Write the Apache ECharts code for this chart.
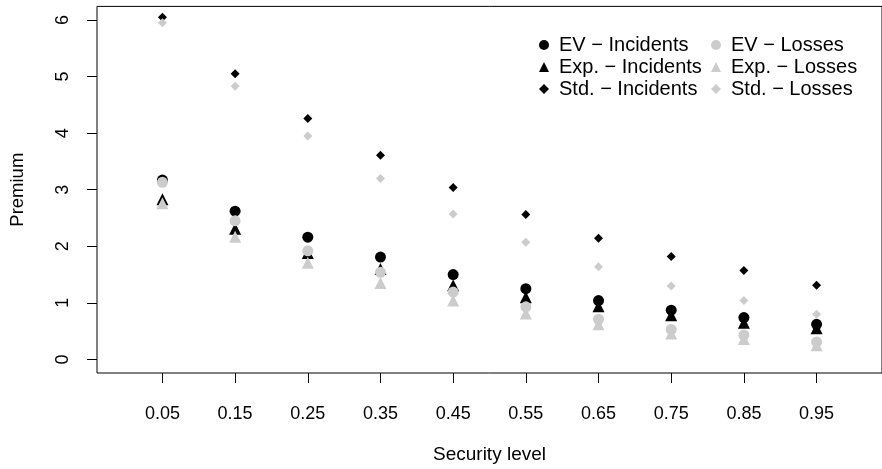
<!DOCTYPE html>
<html>
<head>
<meta charset="utf-8">
<script src="https://cdn.jsdelivr.net/npm/echarts@6/dist/echarts.min.js"></script>
<style>
html,body{margin:0;padding:0;background:#fff;}
#chart{width:882px;height:469px;}
</style>
</head>
<body>
<div id="chart"></div>
<script>
// Data
const securityLevels = [0.05, 0.15, 0.25, 0.35, 0.45, 0.55, 0.65, 0.75, 0.85, 0.95];
const evIncidents  = [3.17, 2.62, 2.16, 1.81, 1.50, 1.25, 1.04, 0.87, 0.74, 0.62];
const expIncidents = [2.83, 2.31, 1.88, 1.60, 1.31, 1.10, 0.94, 0.78, 0.65, 0.55];
const stdIncidents = [6.05, 5.05, 4.26, 3.61, 3.04, 2.56, 2.14, 1.82, 1.57, 1.31];
const evLosses     = [3.13, 2.45, 1.92, 1.54, 1.19, 0.93, 0.71, 0.53, 0.43, 0.31];
const expLosses    = [2.76, 2.17, 1.71, 1.35, 1.04, 0.81, 0.62, 0.46, 0.36, 0.25];
const stdLosses    = [5.95, 4.83, 3.95, 3.20, 2.57, 2.07, 1.64, 1.30, 1.04, 0.80];
const xTickLabels = ['0.05','0.15','0.25','0.35','0.45','0.55','0.65','0.75','0.85','0.95'];
const yTicks = [0, 1, 2, 3, 4, 5, 6];

const BLACK = '#000000';
const GRAY = '#cccccc';
const FONT = 'Liberation Sans, Arial, sans-serif';

function pts(ys) { return securityLevels.map((x, i) => [x, ys[i]]); }

const seriesDefs = [
  {name: 'EV − Incidents',   data: evIncidents,  symbol: 'circle',   size: 11, color: BLACK},
  {name: 'Exp. − Incidents', data: expIncidents, symbol: 'triangle', size: 12, color: BLACK},
  {name: 'Std. − Incidents', data: stdIncidents, symbol: 'diamond',  size: 9,  color: BLACK},
  {name: 'EV − Losses',      data: evLosses,     symbol: 'circle',   size: 11, color: GRAY},
  {name: 'Exp. − Losses',    data: expLosses,    symbol: 'triangle', size: 12, color: GRAY},
  {name: 'Std. − Losses',    data: stdLosses,    symbol: 'diamond',  size: 9,  color: GRAY}
];

const chart = echarts.init(document.getElementById('chart'), null, {renderer: 'canvas'});

const legendCommon = {
  orient: 'vertical',
  itemWidth: 10,
  itemHeight: 10,
  itemGap: 2,
  padding: 0,
  textStyle: {fontFamily: FONT, fontSize: 20, color: '#000', lineHeight: 20, padding: [0, 0, 0, 5]},
  selectedMode: false
};

chart.setOption({
  animation: false,
  backgroundColor: '#fff',
  textStyle: {fontFamily: FONT},
  grid: {
    left: 97, top: 6.4, width: 788, height: 368.2,
    show: true, borderColor: '#000', borderWidth: 1, backgroundColor: 'transparent',
    containLabel: false
  },
  legend: [
    Object.assign({}, legendCommon, {
      left: 539, top: 35,
      data: seriesDefs.slice(0, 3).map(s => ({name: s.name, icon: s.symbol}))
    }),
    Object.assign({}, legendCommon, {
      left: 711, top: 35,
      data: seriesDefs.slice(3).map(s => ({name: s.name, icon: s.symbol}))
    })
  ],
  xAxis: {
    type: 'value', min: -0.04, max: 1.04,
    name: 'Security level', nameLocation: 'middle', nameGap: 72,
    nameTextStyle: {fontFamily: FONT, fontSize: 19, color: '#000'},
    axisLine: {show: false, onZero: false},
    splitLine: {show: false},
    axisTick: {show: true, inside: false, length: 10, customValues: securityLevels,
               lineStyle: {color: '#000', width: 1}},
    axisLabel: {show: true, margin: 32, fontFamily: FONT, fontSize: 18, color: '#000',
                customValues: securityLevels,
                formatter: v => xTickLabels[securityLevels.findIndex(s => Math.abs(s - v) < 1e-9)] || ''}
  },
  yAxis: {
    type: 'value', min: -0.24, max: 6.24,
    name: 'Premium', nameLocation: 'middle', nameGap: 70, nameRotate: 90,
    nameTextStyle: {fontFamily: FONT, fontSize: 18.5, color: '#000'},
    axisLine: {show: false, onZero: false},
    splitLine: {show: false},
    axisTick: {show: true, inside: false, length: 10, customValues: yTicks,
               lineStyle: {color: '#000', width: 1}},
    axisLabel: {show: true, margin: 25, rotate: 90, fontFamily: FONT, fontSize: 18, color: '#000',
                customValues: yTicks, formatter: v => String(v)}
  },
  series: seriesDefs.map(s => ({
    name: s.name,
    type: 'scatter',
    symbol: s.symbol,
    symbolSize: s.size,
    itemStyle: {color: s.color, opacity: 1},
    emphasis: {disabled: true},
    data: pts(s.data)
  }))
});
</script>
</body>
</html>
